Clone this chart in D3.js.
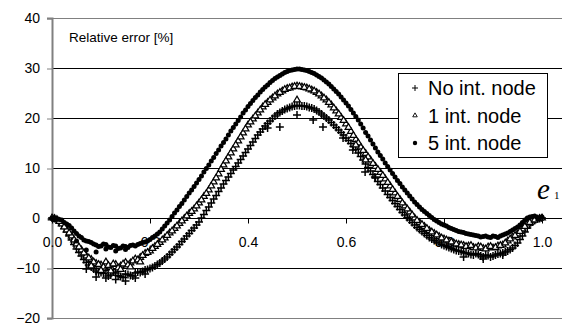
<!DOCTYPE html>
<html>
<head>
<meta charset="utf-8">
<script src="https://cdn.jsdelivr.net/npm/d3@7"></script>
<style>
  body { margin: 0; background: #fff; }
  svg { display: block; }
</style>
</head>
<body>
<div id="chart"></div>
<script>
// position along the element, e1 (0..1)
var xValues = [
  0.00, 0.01, 0.02, 0.03, 0.04, 0.05, 0.06, 0.07, 0.08, 0.09,
  0.10, 0.11, 0.12, 0.13, 0.14, 0.15, 0.16, 0.17, 0.18, 0.19,
  0.20, 0.21, 0.22, 0.23, 0.24, 0.25, 0.26, 0.27, 0.28, 0.29,
  0.30, 0.31, 0.32, 0.33, 0.34, 0.35, 0.36, 0.37, 0.38, 0.39,
  0.40, 0.41, 0.42, 0.43, 0.44, 0.45, 0.46, 0.47, 0.48, 0.49,
  0.50, 0.51, 0.52, 0.53, 0.54, 0.55, 0.56, 0.57, 0.58, 0.59,
  0.60, 0.61, 0.62, 0.63, 0.64, 0.65, 0.66, 0.67, 0.68, 0.69,
  0.70, 0.71, 0.72, 0.73, 0.74, 0.75, 0.76, 0.77, 0.78, 0.79,
  0.80, 0.81, 0.82, 0.83, 0.84, 0.85, 0.86, 0.87, 0.88, 0.89,
  0.90, 0.91, 0.92, 0.93, 0.94, 0.95, 0.96, 0.97, 0.98, 0.99,
  1.00
];

// relative error [%], no internal node (+)
var noNodeValues = [
  0.0, -0.4, -1.4, -2.8, -4.4, -6.2, -7.6, -8.9, -9.8, -10.6,
  -10.9, -10.5, -11.4, -11.0, -11.7, -11.2, -11.5, -11.0, -10.9, -10.4,
  -10.1, -9.6, -9.0, -8.2, -7.3, -6.3, -5.3, -4.2, -3.1, -2.0,
  -0.8, 0.7, 2.2, 3.8, 5.3, 6.8, 8.2, 9.6, 11.0, 12.4,
  13.8, 15.2, 16.6, 17.8, 18.9, 19.9, 20.8, 21.4, 21.9, 22.3,
  22.5, 22.4, 22.3, 22.0, 21.5, 20.8, 20.0, 19.1, 18.1, 17.1,
  16.0, 14.9, 13.7, 12.3, 10.8, 9.4, 8.0, 6.7, 5.4, 4.1,
  2.9, 1.7, 0.6, -0.4, -1.4, -2.3, -3.1, -3.9, -4.5, -5.0,
  -5.5, -5.9, -6.3, -6.6, -6.9, -7.1, -7.4, -7.3, -7.8, -7.5,
  -7.6, -7.2, -7.0, -6.6, -6.0, -5.0, -3.6, -2.0, -0.8, -0.2,
  0.0
];

// relative error [%], 1 internal node (triangles)
var oneNodeValues = [
  0.0, -0.3, -1.2, -2.4, -3.6, -5.2, -6.4, -7.6, -8.3, -9.1,
  -9.4, -8.8, -9.9, -9.3, -9.6, -8.9, -9.0, -8.2, -7.9, -7.1,
  -6.6, -5.7, -4.9, -4.0, -3.0, -2.1, -1.1, -0.1, 0.9, 1.8,
  3.0, 4.3, 5.6, 7.2, 8.8, 10.6, 12.2, 13.8, 15.4, 17.0,
  18.6, 19.8, 21.0, 22.2, 23.1, 24.0, 24.8, 25.4, 25.9, 26.2,
  26.4, 26.2, 26.0, 25.6, 25.1, 24.4, 23.6, 22.6, 21.4, 20.1,
  18.8, 17.3, 15.7, 14.2, 12.9, 11.6, 10.3, 9.1, 7.8, 6.4,
  5.0, 3.7, 2.4, 1.2, 0.0, -0.9, -1.7, -2.5, -3.1, -3.7,
  -4.2, -4.6, -5.0, -5.3, -5.5, -5.6, -5.9, -5.7, -6.1, -5.8,
  -6.0, -5.6, -5.4, -4.6, -3.8, -3.2, -2.2, -1.2, -0.6, -0.2,
  0.0
];

// relative error [%], 5 internal nodes (dots)
var fiveNodeValues = [
  0.0, -0.1, -0.4, -1.2, -2.0, -3.1, -3.9, -4.6, -4.9, -5.4,
  -5.6, -5.3, -5.9, -5.6, -6.0, -5.7, -5.5, -5.6, -5.1, -4.8,
  -4.3, -3.6, -2.8, -1.6, -0.4, 1.0, 2.3, 3.6, 5.0, 6.3,
  7.7, 9.2, 10.6, 12.1, 13.6, 15.1, 16.6, 18.1, 19.5, 21.0,
  22.3, 23.5, 24.6, 25.7, 26.6, 27.5, 28.2, 28.8, 29.3, 29.6,
  29.8, 29.7, 29.5, 29.1, 28.6, 28.0, 27.2, 26.3, 25.3, 24.2,
  23.0, 21.7, 20.3, 18.8, 17.1, 15.6, 14.0, 12.5, 11.0, 9.6,
  8.2, 6.9, 5.6, 4.4, 3.2, 2.2, 1.3, 0.5, -0.3, -0.9,
  -1.4, -1.9, -2.3, -2.7, -2.9, -3.2, -3.4, -3.6, -3.7, -3.8,
  -3.6, -3.9, -3.4, -3.0, -2.4, -1.8, -0.9, 0.0, 0.3, 0.1,
  0.2
];

// second set of sample positions, between the ones above
var midXValues = [
  0.005, 0.015, 0.025, 0.035, 0.045, 0.055, 0.065, 0.075, 0.085, 0.095,
  0.105, 0.115, 0.125, 0.135, 0.145, 0.155, 0.165, 0.175, 0.185, 0.195,
  0.205, 0.215, 0.225, 0.235, 0.245, 0.255, 0.265, 0.275, 0.285, 0.295,
  0.305, 0.315, 0.325, 0.335, 0.345, 0.355, 0.365, 0.375, 0.385, 0.395,
  0.405, 0.415, 0.425, 0.435, 0.445, 0.455, 0.465, 0.475, 0.485, 0.495,
  0.505, 0.515, 0.525, 0.535, 0.545, 0.555, 0.565, 0.575, 0.585, 0.595,
  0.605, 0.615, 0.625, 0.635, 0.645, 0.655, 0.665, 0.675, 0.685, 0.695,
  0.705, 0.715, 0.725, 0.735, 0.745, 0.755, 0.765, 0.775, 0.785, 0.795,
  0.805, 0.815, 0.825, 0.835, 0.845, 0.855, 0.865, 0.875, 0.885, 0.895,
  0.905, 0.915, 0.925, 0.935, 0.945, 0.955, 0.965, 0.975, 0.985, 0.995
];

var noNodeMidValues = [
  -0.1, -0.9, -2.1, -3.6, -5.3, -6.9, -8.3, -9.4, -10.2, -10.9,
  -11.1, -11.6, -10.8, -11.5, -11.9, -11.3, -11.6, -10.8, -10.7, -10.3,
  -9.9, -9.3, -8.6, -7.8, -6.8, -5.8, -4.7, -3.6, -2.5, -1.4,
  0.0, 1.5, 3.0, 4.5, 6.0, 7.5, 8.9, 10.3, 11.7, 13.1,
  14.5, 15.9, 17.2, 18.4, 19.4, 20.4, 21.1, 21.7, 22.1, 22.4,
  22.5, 22.4, 22.1, 21.8, 21.2, 20.4, 19.6, 18.6, 17.6, 16.6,
  15.5, 14.3, 13.0, 11.6, 10.1, 8.7, 7.3, 6.0, 4.7, 3.5,
  2.3, 1.1, 0.1, -0.9, -1.9, -2.7, -3.5, -4.2, -4.8, -5.3,
  -5.7, -6.1, -6.5, -6.7, -7.0, -7.3, -7.1, -7.6, -7.4, -7.8,
  -7.4, -7.1, -6.8, -6.3, -5.5, -4.3, -2.8, -1.4, -0.5, -0.1
];

var oneNodeMidValues = [
  -0.1, -0.7, -1.8, -3.0, -4.4, -5.8, -7.0, -8.0, -8.8, -9.3,
  -9.8, -9.5, -9.2, -10.0, -9.2, -9.4, -8.6, -8.4, -7.5, -6.9,
  -6.1, -5.3, -4.4, -3.5, -2.6, -1.6, -0.6, 0.4, 1.3, 2.4,
  3.6, 4.9, 6.4, 8.0, 9.7, 11.4, 13.0, 14.6, 16.2, 17.8,
  19.2, 20.4, 21.6, 22.7, 23.6, 24.4, 25.1, 25.7, 26.0, 26.3,
  26.3, 26.1, 25.8, 25.4, 24.8, 24.0, 23.1, 22.0, 20.8, 19.5,
  18.1, 16.5, 15.0, 13.5, 12.2, 10.9, 9.7, 8.5, 7.1, 5.7,
  4.3, 3.0, 1.8, 0.6, -0.5, -1.3, -2.1, -2.8, -3.4, -4.0,
  -4.4, -4.8, -5.2, -5.4, -5.7, -5.5, -6.0, -5.8, -6.2, -5.7,
  -5.9, -5.5, -5.0, -4.2, -3.5, -2.7, -1.7, -0.9, -0.4, -0.1
];

var fiveNodeMidValues = [
  0.0, -0.3, -0.9, -1.5, -2.6, -3.6, -4.4, -4.7, -5.2, -5.7,
  -5.2, -5.8, -5.5, -6.1, -5.6, -5.9, -5.4, -5.3, -4.9, -4.6,
  -3.9, -3.2, -2.2, -1.0, 0.3, 1.6, 2.9, 4.3, 5.6, 7.0,
  8.4, 9.9, 11.4, 12.9, 14.4, 15.8, 17.4, 18.8, 20.2, 21.6,
  22.9, 24.1, 25.2, 26.2, 27.1, 27.9, 28.5, 29.1, 29.5, 29.7,
  29.8, 29.6, 29.3, 28.9, 28.3, 27.6, 26.8, 25.8, 24.8, 23.6,
  22.4, 21.0, 19.6, 18.0, 16.4, 14.8, 13.2, 11.8, 10.3, 8.9,
  7.5, 6.2, 5.0, 3.8, 2.7, 1.7, 0.9, 0.1, -0.6, -1.2,
  -1.6, -2.1, -2.5, -2.8, -3.1, -3.3, -3.5, -3.8, -3.6, -3.9,
  -3.7, -3.6, -3.2, -2.7, -2.1, -1.4, -0.4, 0.2, 0.4, 0.0
];

// scattered extra points
var noNodeExtraX = [0.07, 0.09, 0.11, 0.13, 0.15, 0.17, 0.19, 0.44, 0.465, 0.50, 0.533, 0.553, 0.594, 0.614, 0.639, 0.659, 0.84, 0.88, 0.92];
var noNodeExtraY = [-10.2, -11.8, -12.0, -12.3, -12.6, -12.0, -11.2, 18.0, 18.2, 20.6, 19.6, 18.2, 16.0, 13.6, 9.2, 8.2, -7.8, -8.2, -7.4];
var oneNodeExtraX = [0.08, 0.10, 0.12, 0.14, 0.16, 0.18, 0.50, 0.62, 0.64];
var oneNodeExtraY = [-9.6, -10.5, -10.6, -10.3, -9.8, -8.8, 23.6, 14.6, 11.6];
var fiveNodeExtraX = [0.05, 0.07, 0.09, 0.11, 0.13, 0.15];
var fiveNodeExtraY = [-4.6, -6.4, -6.8, -6.2, -6.6, -6.3];

var seriesNames = ["No int. node", "1 int. node", "5 int. node"];
var yTicks = [-20, -10, 0, 10, 20, 30, 40];
var xTicks = [0, 0.2, 0.4, 0.6, 0.8, 1.0];

var svgWidth = 562;
var svgHeight = 329;

var margin = { top: 18, right: 20, bottom: 11, left: 52 };

var svg = d3.select("#chart")
  .append("svg")
  .attr("width", svgWidth)
  .attr("height", svgHeight);

var xScale = d3.scaleLinear()
  .domain([0, 1])
  .range([margin.left, 542]);

var yScale = d3.scaleLinear()
  .domain([-20, 40])
  .range([svgHeight - margin.bottom, margin.top]);

// horizontal grid lines (outer ones grey)
svg.append("g")
  .selectAll("line")
  .data(yTicks)
  .enter()
  .append("line")
  .attr("x1", margin.left)
  .attr("x2", svgWidth)
  .attr("y1", d => Math.round(yScale(d)) + 0.5)
  .attr("y2", d => Math.round(yScale(d)) + 0.5)
  .attr("stroke", d => (d === 40 || d === -20) ? "#808080" : "#000")
  .attr("stroke-width", 1);

// y axis
var leftAxis = d3.axisLeft(yScale)
  .tickValues(yTicks)
  .tickSize(5)
  .tickPadding(7)
  .tickFormat(d3.format("d"));

var yAxis = svg.append("g")
  .attr("transform", `translate(${margin.left}, 0)`)
  .call(leftAxis);

yAxis.select(".domain")
  .attr("stroke", "#808080")
  .attr("stroke-width", 2);

yAxis.selectAll(".tick line")
  .attr("stroke", "#808080")
  .attr("transform", "translate(0,0.5)");

yAxis.selectAll(".tick text")
  .attr("font-family", "Arial, 'Liberation Sans', sans-serif")
  .attr("font-size", "14px")
  .attr("fill", "#000");

// x axis on the zero line
var bottomAxis = d3.axisBottom(xScale)
  .tickValues(xTicks)
  .tickSize(5)
  .tickPadding(14)
  .tickFormat(d3.format(".1f"));

var xAxis = svg.append("g")
  .attr("transform", `translate(0, ${Math.round(yScale(0)) + 0.5})`)
  .call(bottomAxis);

xAxis.select(".domain").remove();
xAxis.selectAll(".tick line").attr("stroke", "#000");
xAxis.selectAll(".tick text")
  .attr("font-family", "Arial, 'Liberation Sans', sans-serif")
  .attr("font-size", "14px")
  .attr("fill", "#000");

// y axis title inside the plot
svg.append("text")
  .attr("x", 69)
  .attr("y", 42)
  .attr("font-family", "Arial, 'Liberation Sans', sans-serif")
  .attr("font-size", "13.5px")
  .text("Relative error [%]");

// x axis symbol e1
var eLabel = svg.append("text")
  .attr("x", 537)
  .attr("y", 199)
  .attr("font-family", "'Liberation Serif', 'Times New Roman', serif");

eLabel.append("tspan")
  .attr("font-style", "italic")
  .attr("font-size", "29px")
  .text("e");

eLabel.append("tspan")
  .attr("dx", 4)
  .attr("font-size", "11px")
  .text("1");

// build point lists
function buildPoints(values, midValues, extraX, extraY) {
  return xValues.map((x, i) => ({ x: x, y: values[i] }))
    .concat(midXValues.map((x, i) => ({ x: x, y: midValues[i] })))
    .concat(extraX.map((x, i) => ({ x: x, y: extraY[i] })));
}

var noNodeData = buildPoints(noNodeValues, noNodeMidValues, noNodeExtraX, noNodeExtraY);
var oneNodeData = buildPoints(oneNodeValues, oneNodeMidValues, oneNodeExtraX, oneNodeExtraY);
var fiveNodeData = buildPoints(fiveNodeValues, fiveNodeMidValues, fiveNodeExtraX, fiveNodeExtraY);

var plusPath = "M-4,0H4M0,-4V4";
var trianglePath = d3.symbol().type(d3.symbolTriangle).size(20)();

// No int. node
svg.append("g")
  .selectAll("path")
  .data(noNodeData)
  .enter()
  .append("path")
  .attr("transform", d => `translate(${xScale(d.x)}, ${yScale(d.y)})`)
  .attr("d", plusPath)
  .attr("stroke", "#000")
  .attr("stroke-width", 1.5)
  .attr("fill", "none");

// 1 int. node
svg.append("g")
  .selectAll("path")
  .data(oneNodeData)
  .enter()
  .append("path")
  .attr("transform", d => `translate(${xScale(d.x)}, ${yScale(d.y)})`)
  .attr("d", trianglePath)
  .attr("stroke", "#000")
  .attr("stroke-width", 1.2)
  .attr("fill", "#fff");

// 5 int. node
svg.append("g")
  .selectAll("circle")
  .data(fiveNodeData)
  .enter()
  .append("circle")
  .attr("cx", d => xScale(d.x))
  .attr("cy", d => yScale(d.y))
  .attr("r", 2.5)
  .attr("fill", "#000");

// legend
var legend = svg.append("g");

legend.append("rect")
  .attr("x", 398.5)
  .attr("y", 73.5)
  .attr("width", 149)
  .attr("height", 84)
  .attr("fill", "#fff")
  .attr("stroke", "#000")
  .attr("stroke-width", 1);

var legendRows = legend.selectAll(".row")
  .data(seriesNames)
  .enter()
  .append("g")
  .attr("class", "row")
  .attr("transform", (d, i) => `translate(415, ${88 + i * 27.5})`);

legendRows.append("path")
  .attr("d", (d, i) => i === 0 ? "M-3,0H3M0,-3V3" : i === 1 ? d3.symbol().type(d3.symbolTriangle).size(9)() : "")
  .attr("stroke", "#000")
  .attr("stroke-width", (d, i) => i === 0 ? 1 : 0.9)
  .attr("fill", (d, i) => i === 1 ? "#fff" : "none");

legendRows.filter((d, i) => i === 2)
  .append("circle")
  .attr("r", 2.2)
  .attr("fill", "#000");

legendRows.append("text")
  .attr("x", 13)
  .attr("y", 7)
  .attr("font-family", "Arial, 'Liberation Sans', sans-serif")
  .attr("font-size", "20px")
  .text(d => d);
</script>
</body>
</html>
